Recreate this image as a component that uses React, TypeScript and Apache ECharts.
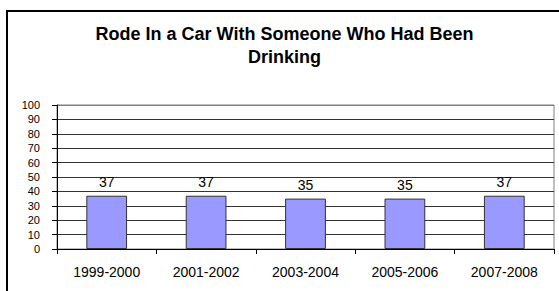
import React, { useEffect, useRef } from "react";
import * as echarts from "echarts";

const categories = ["1999-2000", "2001-2002", "2003-2004", "2005-2006", "2007-2008"];
const values = [37, 37, 35, 35, 37];
const yTicks = { min: 0, max: 100, interval: 10 };
const titleText = "Rode In a Car With Someone Who Had Been\nDrinking";

export default function App() {
  const ref = useRef<HTMLDivElement>(null);
  useEffect(() => {
    if (!ref.current) return;
    const chart = echarts.init(ref.current, undefined, { renderer: "svg" });
    const font = "Arial, 'Liberation Sans', sans-serif";
    const gridColors = Array.from({ length: 11 }, (_, i) => (i === 10 ? "#808080" : "#333333"));
    chart.setOption({
      animation: false,
      backgroundColor: "#ffffff",
      title: {
        text: titleText,
        left: 284.5,
        top: 22,
        padding: 0,
        textAlign: "center",
        textStyle: {
          fontFamily: font,
          fontSize: 18,
          fontWeight: "bold",
          color: "#000",
          lineHeight: 23,
        },
      },
      graphic: [
        {
          type: "rect",
          shape: { x: 7, y: 11, width: 556, height: 290 },
          style: { fill: "none", stroke: "#000", lineWidth: 2 },
          z: 100,
        },
      ],
      grid: {
        left: 57,
        right: 5,
        top: 105,
        bottom: 42,
        show: true,
        borderColor: "#808080",
        borderWidth: 1,
        containLabel: false,
      },
      xAxis: {
        type: "category",
        data: categories,
        axisLine: { show: true, lineStyle: { color: "#000", width: 1 } },
        axisTick: { show: true, alignWithLabel: false, length: 5, lineStyle: { color: "#000" } },
        axisLabel: { fontFamily: font, fontSize: 14, color: "#000", margin: 16, interval: 0 },
        splitLine: { show: false },
      },
      yAxis: {
        type: "value",
        min: yTicks.min,
        max: yTicks.max,
        interval: yTicks.interval,
        axisLine: { show: true, lineStyle: { color: "#000", width: 1 } },
        axisTick: { show: true, length: 5, lineStyle: { color: "#000" } },
        axisLabel: { fontFamily: font, fontSize: 11, color: "#000", margin: 17 },
        splitLine: { show: true, lineStyle: { color: gridColors, width: 1 } },
      },
      series: [
        {
          type: "bar",
          data: values,
          barWidth: "41%",
          itemStyle: { color: "#9999ff", borderColor: "#333333", borderWidth: 1 },
          label: {
            show: true,
            position: "top",
            distance: 7,
            fontFamily: font,
            fontSize: 14,
            color: "#000",
          },
        },
      ],
    });
    return () => chart.dispose();
  }, []);
  return (
    <div
      ref={ref}
      style={{ position: "absolute", left: 0, top: 0, width: 559, height: 291 }}
    />
  );
}
